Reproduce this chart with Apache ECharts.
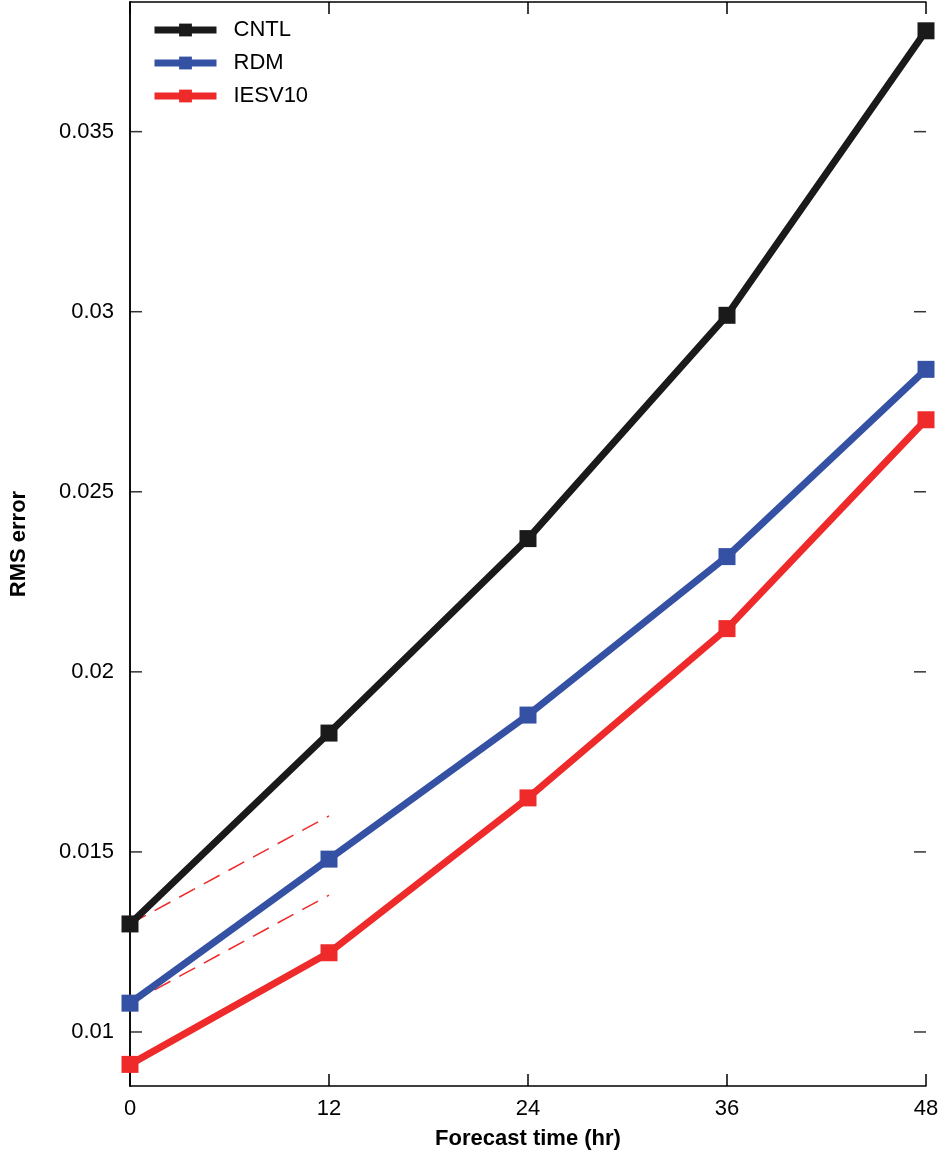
<!DOCTYPE html>
<html>
<head>
<meta charset="utf-8">
<script src="https://cdn.jsdelivr.net/npm/echarts@6/dist/echarts.min.js"></script>
<style>html,body{margin:0;background:#fff}#main{width:942px;height:1159px}</style>
</head>
<body>
<div id="main"></div>
<script>
const hours = [0, 12, 24, 36, 48];
const cntl = [0.0130, 0.0183, 0.0237, 0.0299, 0.0378];
const rdm = [0.0108, 0.0148, 0.0188, 0.0232, 0.0284];
const iesv10 = [0.0091, 0.0122, 0.0165, 0.0212, 0.0270];
const dashUpper = [[0, 0.0130], [12, 0.0160]];
const dashLower = [[0, 0.0108], [12, 0.0138]];
const yTicks = [0.01, 0.015, 0.02, 0.025, 0.03, 0.035];

const font = 'Liberation Sans, Arial, sans-serif';
const pts = arr => hours.map((h, i) => [h, arr[i]]);

function yAxisCfg(pos, showLabel) {
    return {
        type: 'value', position: pos, min: 0.0085, max: 0.0386,
        name: showLabel ? 'RMS error' : '', nameLocation: 'middle', nameGap: 100,
        nameTextStyle: {fontSize: 22, fontWeight: 'bold', color: '#000', fontFamily: font},
        axisLine: {show: true, lineStyle: {color: '#000', width: 1.5}},
        axisTick: {show: false},
        axisLabel: {show: showLabel, customValues: yTicks, fontSize: 22, color: '#000', fontFamily: font, margin: 16,
            formatter: v => String(+v.toFixed(3))},
        splitLine: {show: false}
    };
}
function xAxisCfg(pos, showLabel) {
    return {
        type: 'value', position: pos, min: 0, max: 48, interval: 12,
        name: showLabel ? 'Forecast time (hr)' : '', nameLocation: 'middle', nameGap: 42,
        nameTextStyle: {fontSize: 22, fontWeight: 'bold', color: '#000', fontFamily: font},
        axisLine: {show: true, lineStyle: {color: '#000', width: 1.5}},
        axisTick: {show: true, inside: true, length: 12, lineStyle: {color: '#000', width: 1.5}},
        axisLabel: {show: showLabel, fontSize: 22, color: '#000', fontFamily: font, margin: 12},
        splitLine: {show: false}
    };
}
function mainSeries(name, arr, color) {
    return {
        name: name, type: 'line', data: pts(arr), symbol: 'rect', symbolSize: 17,
        lineStyle: {color: color, width: 7}, itemStyle: {color: color}, z: 3
    };
}
function dashSeries(data) {
    return {
        type: 'line', data: data, symbol: 'none', silent: true,
        lineStyle: {color: '#ee2a2a', width: 1.5, type: [18, 10]}, z: 2
    };
}
function tickSeries(xv, off) {
    return {
        type: 'scatter', data: yTicks.map(t => [xv, t]), symbol: 'rect', symbolSize: [12, 1.5],
        symbolOffset: [off, 0], itemStyle: {color: '#000'}, silent: true, clip: false, z: 1
    };
}

const chart = echarts.init(document.getElementById('main'));
chart.setOption({
    animation: false,
    grid: {left: 122, right: 16, top: 2, bottom: 73},
    xAxis: [xAxisCfg('bottom', true), xAxisCfg('top', false)],
    yAxis: [yAxisCfg('left', true), yAxisCfg('right', false)],
    legend: {
        left: 146, top: 14, orient: 'vertical', itemWidth: 62, itemHeight: 16, itemGap: 11,
        lineStyle: {width: 7},
        textStyle: {fontSize: 22, color: '#000', fontFamily: font, padding: [0, 0, 0, 12]},
        data: ['CNTL', 'RDM', 'IESV10']
    },
    series: [
        tickSeries(0, 6), tickSeries(48, -6),
        dashSeries(dashUpper), dashSeries(dashLower),
        mainSeries('CNTL', cntl, '#1a1a1a'),
        mainSeries('RDM', rdm, '#3551a4'),
        mainSeries('IESV10', iesv10, '#ee2a2a')
    ]
});
</script>
</body>
</html>
